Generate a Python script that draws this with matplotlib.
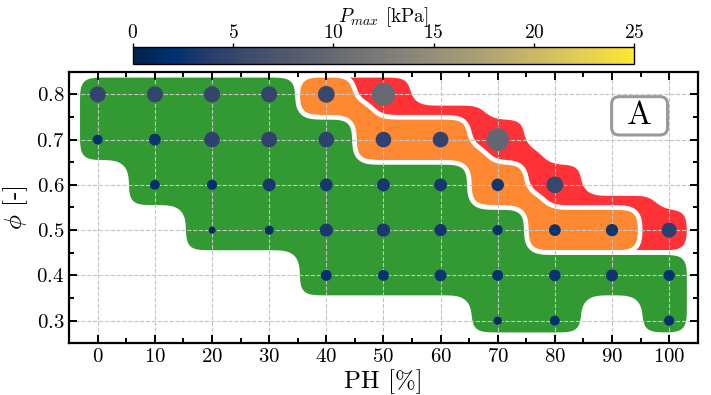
import numpy as np
import matplotlib.pyplot as plt
from matplotlib import colors as mcolors
from matplotlib.patches import FancyBboxPatch

plt.rcParams['font.family'] = 'serif'
plt.rcParams['font.serif'] = ['cmr10']
plt.rcParams['mathtext.fontset'] = 'cm'
plt.rcParams['axes.unicode_minus'] = False
plt.rcParams['axes.formatter.use_mathtext'] = True

# measured points: pore-holder fraction, solid fraction, peak pressure, regime
ph = [0, 10, 20, 30, 40, 50,
      0, 10, 20, 30, 40, 50, 60, 70,
      10, 20, 30, 40, 50, 60, 70, 80,
      20, 30, 40, 50, 60, 70, 80, 90, 100,
      40, 50, 60, 70, 80, 90, 100,
      70, 80, 100]
phi = [0.8, 0.8, 0.8, 0.8, 0.8, 0.8,
       0.7, 0.7, 0.7, 0.7, 0.7, 0.7, 0.7, 0.7,
       0.6, 0.6, 0.6, 0.6, 0.6, 0.6, 0.6, 0.6,
       0.5, 0.5, 0.5, 0.5, 0.5, 0.5, 0.5, 0.5, 0.5,
       0.4, 0.4, 0.4, 0.4, 0.4, 0.4, 0.4,
       0.3, 0.3, 0.3]
pmax = [4.7, 4.8, 4.9, 4.8, 5.2, 10.0,
        1.8, 2.6, 4.5, 4.6, 4.5, 4.5, 4.6, 9.6,
        1.8, 1.9, 3.0, 3.0, 3.1, 3.0, 2.9, 5.2,
        0.9, 1.5, 3.2, 3.3, 2.8, 1.9, 2.6, 2.8, 4.2,
        2.2, 2.2, 2.6, 2.2, 2.5, 2.7, 2.3,
        1.3, 1.8, 1.9]
regime = ['g', 'g', 'g', 'g', 'o', 'r',
          'g', 'g', 'g', 'g', 'g', 'o', 'o', 'r',
          'g', 'g', 'g', 'g', 'g', 'g', 'o', 'r',
          'g', 'g', 'g', 'g', 'g', 'g', 'o', 'o', 'r',
          'g', 'g', 'g', 'g', 'g', 'g', 'g',
          'g', 'g', 'g']

regime_colors = {'g': '#339933', 'o': '#ff8833', 'r': '#ff3337'}
cticks = [0, 5, 10, 15, 20, 25]

xlim = (-5, 105)
ylim = (0.25, 0.85)

# fine mesh (about one sample per pixel) for the regime blobs
xs = np.linspace(xlim[0], xlim[1], 630)
ys = np.linspace(ylim[0], ylim[1], 272)
X, Y = np.meshgrid(xs, ys)
frame = (X >= -3.5) & (X <= 103.5) & (Y >= 0.268) & (Y <= 0.842)


def box(cx, cy, hx, hy):
    return (np.abs(X - cx) <= hx) & (np.abs(Y - cy) <= hy)


def cells(nodes, gx=0.0, gy=0.0):
    m = np.zeros(X.shape, bool)
    s = set(nodes)
    for x, y in nodes:
        m |= box(x, y, 5 + gx, 0.05 + gy)
        # join cells that only touch at a corner (staircase steps)
        x2, y2 = x + 10, round(y - 0.1, 2)
        if (x2, y2) in s and (x2, y) not in s and (x, y2) not in s:
            m |= box(x + 5, y - 0.05, 3.2, 0.032)
    return m & frame


def smooth(mask, sigma=9):
    k = np.exp(-0.5 * (np.arange(-3 * sigma, 3 * sigma + 1) / sigma) ** 2)
    k /= k.sum()
    f = mask.astype(float)
    f = np.apply_along_axis(lambda r: np.convolve(r, k, 'same'), 1, f)
    f = np.apply_along_axis(lambda c: np.convolve(c, k, 'same'), 0, f)
    return f


nodes = {key: [(x, y) for x, y, r in zip(ph, phi, regime) if r == key] for key in 'gor'}
green = cells(nodes['g'])
orange = cells(nodes['o'])
# red zone also wraps the transition zone on its unstable side
red = cells(nodes['r']) | (cells(nodes['o'], 3, 0.03) & ~green)

fig = plt.figure(figsize=(7.11, 3.95), dpi=100)
ax = fig.add_axes([0.0973, 0.1309, 0.884, 0.6876])
cax = fig.add_axes([0.187, 0.838, 0.705, 0.042])

for i, (mask, key) in enumerate([(red, 'r'), (orange, 'o'), (green, 'g')]):
    f = smooth(mask)
    ax.contourf(X, Y, f, levels=[0.5, 2], colors=[regime_colors[key]], zorder=0.5 + 0.2 * i)
    ax.contour(X, Y, f, levels=[0.5], colors='white', linewidths=3.4, zorder=0.6 + 0.2 * i)

norm = mcolors.Normalize(vmin=0, vmax=25)
ax.scatter(ph, phi, s=[28 * p for p in pmax], c=pmax, cmap='cividis', norm=norm,
           linewidths=0, zorder=3)

ax.set_xlim(*xlim)
ax.set_ylim(*ylim)
ax.set_xticks(np.arange(0, 101, 10))
ax.set_xticks(np.arange(-5, 106, 5), minor=True)
ax.set_yticks([0.3, 0.4, 0.5, 0.6, 0.7, 0.8])
ax.set_yticks(np.arange(0.25, 0.86, 0.05), minor=True)
ax.grid(True, which='major', color='#c4c4c4', linestyle='--', linewidth=0.8)
ax.tick_params(which='both', direction='in', top=True, right=True, width=1.4)
ax.tick_params(which='major', length=6, labelsize=15)
ax.tick_params(which='minor', length=3.5)
for s in ax.spines.values():
    s.set_linewidth(1.6)
ax.set_xlabel('PH [%]', fontsize=18, labelpad=2)
ax.set_ylabel(r'$\phi$ [-]', fontsize=18)

# panel tag
tag = FancyBboxPatch((0.863, 0.767), 0.089, 0.141, boxstyle='round,pad=0,rounding_size=0.012',
                     mutation_aspect=2.31, transform=ax.transAxes, fc='white',
                     ec='#9a9a9a', lw=2.2, zorder=5)
ax.add_patch(tag)
ax.text(0.9075, 0.8375, 'A', transform=ax.transAxes, fontsize=24,
        ha='center', va='center', zorder=6)

sm = plt.cm.ScalarMappable(norm=norm, cmap='cividis')
cb = fig.colorbar(sm, cax=cax, orientation='horizontal', ticks=cticks)
cax.xaxis.set_ticks_position('top')
cax.xaxis.set_label_position('top')
cax.tick_params(labelsize=14, length=3, width=1, pad=1)
cb.outline.set_linewidth(1.0)
cb.set_label(r'$P_{max}$ [kPa]', fontsize=14, labelpad=1.5)

fig.savefig('out.png', dpi=100)
